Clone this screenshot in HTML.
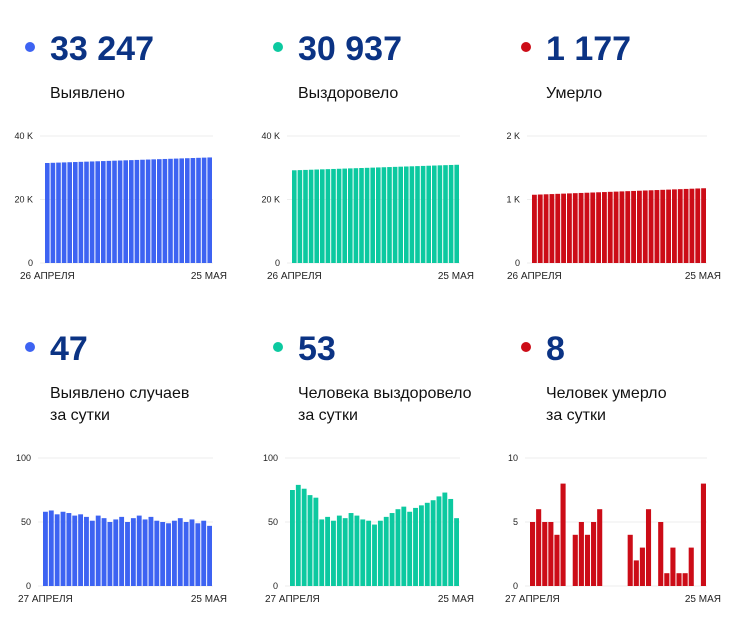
<!DOCTYPE html>
<html><head><meta charset="utf-8"><style>
body{margin:0;background:#fff;width:729px;height:625px;overflow:hidden;font-family:"Liberation Sans",sans-serif}
svg{display:block}
</style></head><body>
<svg id="s" width="729" height="625" xmlns="http://www.w3.org/2000/svg" font-family="Liberation Sans, sans-serif"></svg>
<script>
var s=document.getElementById('s'),h='';
function lin(a,b,n){var r=[];for(var i=0;i<n;i++)r.push(a+(b-a)*i/(n-1));return r;}
var panels=[
 {x:20,dy:0,col:'#3d63f2',num:'33 247',lab:['Выявлено'],x0:45,x1:213,y0:263,y1:136,max:40000,ticks:['0','20 K','40 K'],d0:'26 АПРЕЛЯ',vals:lin(31500,33247,30)},
 {x:268,dy:0,col:'#0cc9a0',num:'30 937',lab:['Выздоровело'],x0:292,x1:460,y0:263,y1:136,max:40000,ticks:['0','20 K','40 K'],d0:'26 АПРЕЛЯ',vals:lin(29200,30937,30)},
 {x:516,dy:0,col:'#cc0c17',num:'1 177',lab:['Умерло'],x0:532,x1:707,y0:263,y1:136,max:2000,ticks:['0','1 K','2 K'],d0:'26 АПРЕЛЯ',vals:lin(1075,1177,30)},
 {x:20,dy:300,col:'#3d63f2',num:'47',lab:['Выявлено случаев','за сутки'],x0:43,x1:213,y0:586,y1:458,max:100,ticks:['0','50','100'],d0:'27 АПРЕЛЯ',vals:[58,59,56,58,57,55,56,54,51,55,53,50,52,54,50,53,55,52,54,51,50,49,51,53,50,52,49,51,47]},
 {x:268,dy:300,col:'#0cc9a0',num:'53',lab:['Человека выздоровело','за сутки'],x0:290,x1:460,y0:586,y1:458,max:100,ticks:['0','50','100'],d0:'27 АПРЕЛЯ',vals:[75,79,76,71,69,52,54,51,55,53,57,55,52,51,48,51,54,57,60,62,58,61,63,65,67,70,73,68,53]},
 {x:516,dy:300,col:'#cc0c17',num:'8',lab:['Человек умерло','за сутки'],x0:530,x1:707,y0:586,y1:458,max:10,ticks:['0','5','10'],d0:'27 АПРЕЛЯ',vals:[5,6,5,5,4,8,0,4,5,4,5,6,0,0,0,0,4,2,3,6,0,5,1,3,1,1,3,0,8]}
];
panels.forEach(function(p){
 var t=p.dy;
 h+='<circle cx="'+(p.x+10)+'" cy="'+(47+t)+'" r="5" fill="'+p.col+'"/>';
 h+='<text x="'+(p.x+30)+'" y="'+(60+t)+'" font-size="34" font-weight="bold" fill="#0b3384">'+p.num+'</text>';
 p.lab.forEach(function(l,i){h+='<text x="'+(p.x+30)+'" y="'+(98+t+i*22)+'" font-size="16" fill="#111">'+l+'</text>';});
 for(var k=0;k<3;k++){var y=p.y0+(p.y1-p.y0)*k/2;
  h+='<line x1="'+(p.x0-5)+'" x2="'+p.x1+'" y1="'+y+'" y2="'+y+'" stroke="#eee" stroke-width="1"/>';
  h+='<text x="'+(p.x0-12)+'" y="'+(y+3)+'" font-size="9" text-anchor="end" fill="#222">'+p.ticks[k]+'</text>';}
 var n=p.vals.length,w=(p.x1-p.x0)/n;
 p.vals.forEach(function(v,i){var hh=(p.y0-p.y1)*v/p.max;if(hh<=0)return;
  h+='<rect x="'+(p.x0+i*w).toFixed(2)+'" y="'+(p.y0-hh).toFixed(2)+'" width="'+(w-1).toFixed(2)+'" height="'+hh.toFixed(2)+'" fill="'+p.col+'"/>';});
 var dy=p.y0+16;
 h+='<text x="'+(p.x0-25)+'" y="'+dy+'" font-size="10" fill="#222">'+p.d0+'</text>';
 h+='<text x="'+(p.x1+14)+'" y="'+dy+'" font-size="10" text-anchor="end" fill="#222">25 МАЯ</text>';
});
s.innerHTML=h;
</script>
</body></html>
